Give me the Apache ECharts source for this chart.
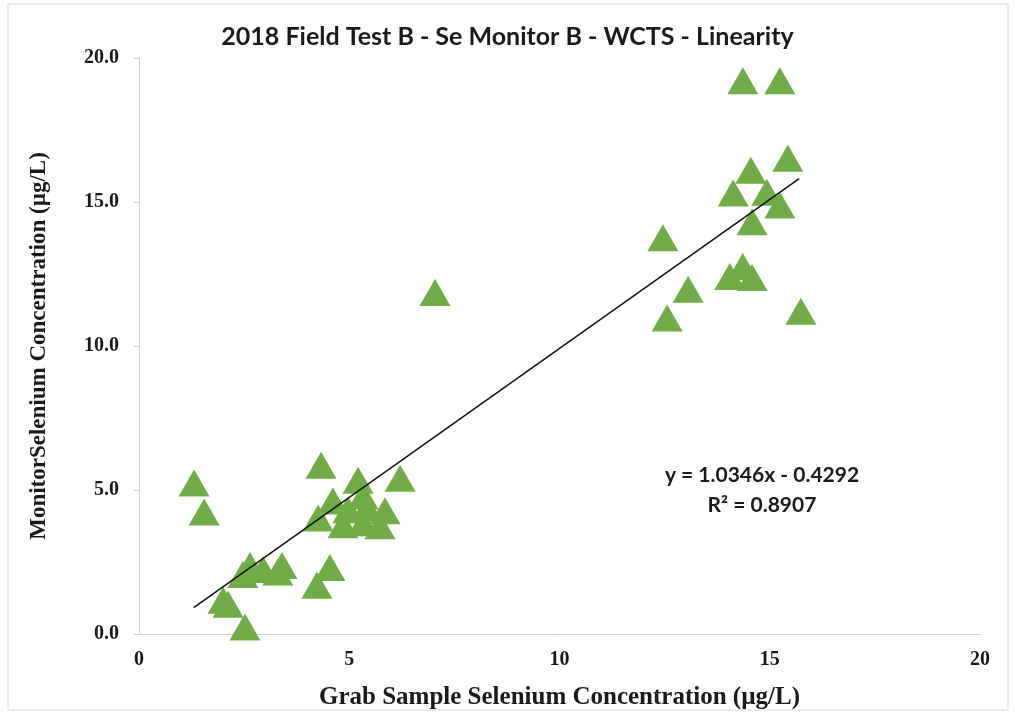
<!DOCTYPE html>
<html>
<head>
<meta charset="utf-8">
<script src="https://cdn.jsdelivr.net/npm/echarts@6/dist/echarts.min.js"></script>
<style>
  html, body { margin: 0; padding: 0; background: #fff; }
  #myEchart { width: 1015px; height: 715px; }
</style>
</head>
<body>
<div id="myEchart"></div>
<script>
  // grab sample (x) vs monitor (y)
  var grabX = [1.31, 1.55, 2.00, 2.12, 2.52, 2.47, 2.64, 2.95, 3.40, 3.30,
               4.23, 4.54, 4.26, 4.33, 4.61, 4.85, 4.97, 5.21, 5.33, 5.42,
               5.33, 5.73, 5.85, 6.21, 7.04,
               12.46, 12.56, 13.06, 14.05, 14.36, 14.58, 15.74, 14.58, 14.13,
               14.93, 15.24, 14.55, 15.43, 14.36, 15.24];
  var monitorY = [5.24, 4.24, 1.17, 1.03, 0.24, 2.07, 2.38, 2.24, 2.38, 2.15,
                  1.69, 2.31, 4.03, 5.86, 4.62, 3.79, 4.31, 5.34, 4.79, 4.38,
                  3.86, 3.76, 4.28, 5.41, 11.86,
                  13.76, 10.97, 11.97, 12.41, 12.76, 12.38, 11.21, 14.31, 15.31,
                  15.34, 14.90, 16.10, 16.52, 19.21, 19.21];

  // linear fit shown on the chart
  var slope = 1.0346;
  var intercept = -0.4292;
  var rSquared = 0.8907;
  var fitRange = [1.3, 15.7];

  var xTicks = [0, 5, 10, 15, 20];
  var yTicks = [0, 5, 10, 15, 20];

  var points = grabX.map(function (x, i) { return [x, monitorY[i]]; });
  var fitLine = fitRange.map(function (x) { return [x, slope * x + intercept]; });

  var myEchart = echarts.init(document.getElementById('myEchart'));
  var serif = '"Liberation Serif", "DejaVu Serif", serif';
  var sans = 'Lato, "Open Sans", sans-serif';

  var option = {
    backgroundColor: '#fff',
    animation: false,
    title: {
      text: '2018 Field Test B - Se Monitor B - WCTS - Linearity',
      left: 'center',
      top: 19,
      textStyle: { fontFamily: sans, fontSize: 25, fontWeight: 'bold', color: '#1a1a1a' }
    },
    grid: { left: 139, right: 35, top: 58, bottom: 78 },
    xAxis: {
      type: 'value',
      min: xTicks[0],
      max: xTicks[xTicks.length - 1],
      interval: 5,
      name: 'Grab Sample Selenium Concentration (µg/L)',
      nameLocation: 'middle',
      nameGap: 51,
      nameTextStyle: { fontFamily: serif, fontSize: 25, fontWeight: 'bold', color: '#1a1a1a' },
      axisLine: { show: true, lineStyle: { color: '#d0d0d0', width: 1 } },
      axisTick: { show: false },
      splitLine: { show: false },
      axisLabel: { fontFamily: serif, fontSize: 20, fontWeight: 'bold', color: '#1a1a1a', margin: 16 }
    },
    yAxis: {
      type: 'value',
      min: yTicks[0],
      max: yTicks[yTicks.length - 1],
      interval: 5,
      name: 'MonitorSelenium Concentration (µg/L)',
      nameLocation: 'middle',
      nameGap: 88,
      nameTextStyle: { fontFamily: serif, fontSize: 23, fontWeight: 'bold', color: '#1a1a1a' },
      axisLine: { show: true, lineStyle: { color: '#d0d0d0', width: 1 } },
      axisTick: { show: true, length: 5, lineStyle: { color: '#d0d0d0' } },
      splitLine: { show: false },
      axisLabel: {
        fontFamily: serif, fontSize: 20, fontWeight: 'bold', color: '#1a1a1a', margin: 20,
        formatter: function (v) { return v.toFixed(1); }
      }
    },
    graphic: [
      {
        type: 'rect',
        shape: { x: 8, y: 4, width: 1000, height: 706 },
        style: { fill: 'none', stroke: '#d9d9d9', lineWidth: 1 },
        z: -1
      },
      {
        type: 'text',
        x: 762,
        y: 460,
        style: {
          text: 'y = ' + slope.toFixed(4) + 'x - ' + Math.abs(intercept).toFixed(4) + '\n' +
                'R² = ' + rSquared.toFixed(4),
          font: 'bold 21px ' + sans,
          fill: '#1a1a1a',
          align: 'center',
          lineHeight: 30
        }
      }
    ],
    series: [
      {
        type: 'scatter',
        data: points,
        symbol: 'triangle',
        symbolSize: [31, 27],
        itemStyle: { color: '#70ad47', opacity: 1 },
        z: 2
      },
      {
        type: 'line',
        data: fitLine,
        symbol: 'none',
        lineStyle: { color: '#111', width: 1.5 },
        z: 3
      }
    ]
  };

  myEchart.setOption(option);
</script>
</body>
</html>
